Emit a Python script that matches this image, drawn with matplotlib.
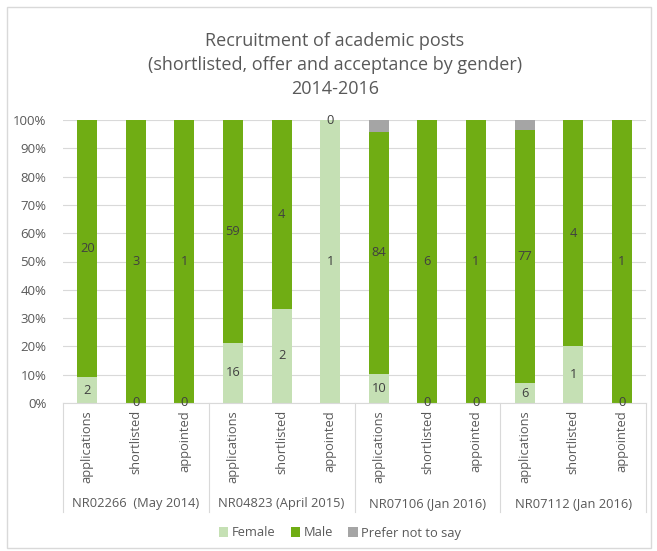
import numpy as np
import matplotlib.pyplot as plt
from matplotlib.patches import Rectangle
from matplotlib.ticker import PercentFormatter

# Counts by gender for each recruitment stage
posts = ['NR02266  (May 2014)', 'NR04823 (April 2015)', 'NR07106 (Jan 2016)', 'NR07112 (Jan 2016)']
stages = ['applications', 'shortlisted', 'appointed']
female = [2, 0, 0, 16, 2, 1, 10, 0, 0, 6, 1, 0]
male = [20, 3, 1, 59, 4, 0, 84, 6, 1, 77, 4, 1]
prefer_not = [0, 0, 0, 0, 0, 0, 4, 0, 0, 3, 0, 0]

c_female = '#C5E0B4'
c_male = '#70AD14'
c_pnts = '#A5A5A5'
txt = '#404040'
fs = 9.3

plt.rcParams['font.family'] = ['Open Sans', 'DejaVu Sans']

f = np.array(female, float)
m = np.array(male, float)
p = np.array(prefer_not, float)
tot = f + m + p
fp = f / tot * 100
mp = m / tot * 100
pp = p / tot * 100
x = np.arange(len(female))

fig = plt.figure(figsize=(6.57, 5.51), dpi=100)
fig.patches.append(Rectangle((7 / 657, 3 / 551), 644 / 657, 541 / 551, transform=fig.transFigure,
                             fill=False, edgecolor='#D9D9D9', linewidth=1))
ax = fig.add_axes([63 / 657, 1 - 403 / 551, 583 / 657, 283 / 551])

w = 0.41
ax.bar(x, fp, w, color=c_female, label='Female', zorder=2)
ax.bar(x, mp, w, bottom=fp, color=c_male, label='Male', zorder=2)
ax.bar(x, pp, w, bottom=fp + mp, color=c_pnts, label='Prefer not to say', zorder=2)

# count labels in the middle of each segment
for i in x:
    ax.text(i, fp[i] / 2, f'{female[i]}', ha='center', va='center', fontsize=fs, color=txt, zorder=3)
    ax.text(i, fp[i] + mp[i] / 2, f'{male[i]}', ha='center', va='center', fontsize=fs, color=txt, zorder=3)

ax.set_xlim(-0.5, len(x) - 0.5)
ax.set_ylim(0, 100)
ax.set_yticks(np.arange(0, 101, 10))
ax.yaxis.set_major_formatter(PercentFormatter(decimals=0))
ax.grid(axis='y', color='#D9D9D9', linewidth=0.8, zorder=0)
for s in ['top', 'right', 'left']:
    ax.spines[s].set_visible(False)
ax.spines['bottom'].set_color('#D9D9D9')
ax.tick_params(axis='y', length=0, labelsize=9.5, labelcolor='#595959', pad=12)
ax.set_xticks(x)
ax.set_xticklabels(stages * len(posts), rotation=90, fontsize=fs, color='#595959')
ax.tick_params(axis='x', length=0, pad=5)

# group separators and group names below the stage labels
trans = ax.get_xaxis_transform()
for g in range(len(posts) + 1):
    ax.plot([g * 3 - 0.5] * 2, [0, -0.385], transform=trans, color='#D9D9D9',
            linewidth=0.8, clip_on=False)
for g, name in enumerate(posts):
    ax.text(g * 3 + 1, -0.355, name, transform=trans, ha='center', va='center',
            fontsize=fs, color='#595959')

fig.text(335 / 657, 1 - 65 / 551,
         'Recruitment of academic posts\n(shortlisted, offer and acceptance by gender)\n2014-2016',
         ha='center', va='center', fontsize=13, color='#595959', linespacing=1.45)

fig.legend(loc='center', bbox_to_anchor=(340 / 657, 1 - 533 / 551), ncol=3, frameon=False,
           fontsize=fs, handlelength=0.7, handleheight=0.7, handletextpad=0.3,
           columnspacing=1.2, labelcolor='#595959')

fig.savefig('out.png', dpi=100)
